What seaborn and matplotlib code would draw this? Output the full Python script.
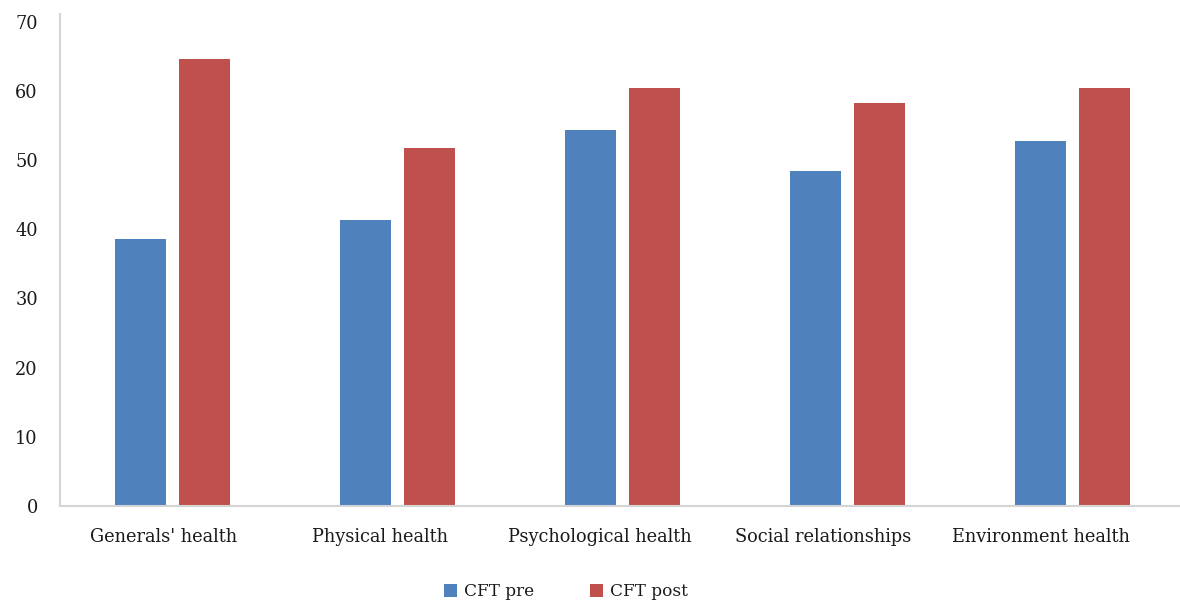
import matplotlib
matplotlib.use("Agg")
import matplotlib.pyplot as plt
import seaborn as sns
import pandas as pd

categories = ["Generals' health", "Physical health", "Psychological health",
              "Social relationships", "Environment health"]
cft_pre = [38.6, 41.3, 54.3, 48.4, 52.8]
cft_post = [64.6, 51.8, 60.4, 58.3, 60.4]
series_names = ["CFT pre", "CFT post"]
y_ticks = [0, 10, 20, 30, 40, 50, 60, 70]

df = pd.DataFrame({
    "category": categories * 2,
    "value": cft_pre + cft_post,
    "series": [series_names[0]] * len(categories) + [series_names[1]] * len(categories),
})

sns.set_theme(style="white")
plt.rcParams["font.family"] = ["DejaVu Serif"]

W, H = 1180, 605
fig = plt.figure(figsize=(W / 100, H / 100), dpi=100)
ax = fig.add_axes([60 / W, (H - 506) / H, 1125 / W, (506 - 14) / H])

palette = {"CFT pre": "#4F81BD", "CFT post": "#C0504D"}
sns.barplot(data=df, x="category", y="value", hue="series", order=categories,
            hue_order=series_names, palette=palette, width=0.569, gap=0.203,
            saturation=1, edgecolor="none", ax=ax, legend=True)

ax.set_ylim(0, 71.1)
ax.set_xlim(-0.5, len(categories) - 0.5)
ax.set_yticks(y_ticks)
# category labels sit on a slightly tighter spacing than the bar groups
label_pos = [-0.04, 0.92, 1.90, 2.89, 3.86]
ax.set_xticks(label_pos, categories)
ax.set_xlabel("")
ax.set_ylabel("")
for s in ["top", "right"]:
    ax.spines[s].set_visible(False)
for s in ["left", "bottom"]:
    ax.spines[s].set_color("#d4d4d4")
    ax.spines[s].set_linewidth(1.5)
ax.tick_params(axis="both", length=0, labelsize=12.8, colors="#1a1a1a")
ax.tick_params(axis="y", pad=16)
ax.tick_params(axis="x", pad=16)

handles, labels = ax.get_legend_handles_labels()
ax.legend_.remove()
fig.legend(handles, labels, loc="center", bbox_to_anchor=(566 / W, (H - 592) / H),
           ncol=2, frameon=False, fontsize=12.2, handlelength=0.78, handleheight=0.78,
           handletextpad=0.4, columnspacing=3.3, labelcolor="#1a1a1a")

fig.savefig("out.png", dpi=100)
